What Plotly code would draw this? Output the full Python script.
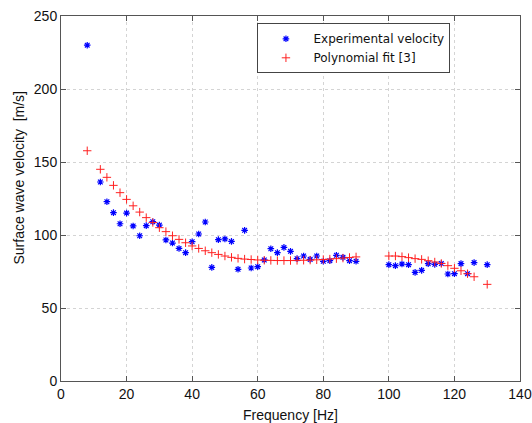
import plotly.graph_objects as go

frequency = [8, 12, 14, 16, 18, 20, 22, 24, 26, 28, 30, 32, 34, 36, 38, 40, 42, 44, 46, 48,
             50, 52, 54, 56, 58, 60, 62, 64, 66, 68, 70, 72, 74, 76, 78, 80, 82, 84, 86, 88, 90,
             100, 102, 104, 106, 108, 110, 112, 114, 116, 118, 120, 122, 124, 126, 130]

experimental_velocity = [230, 136.3, 122.8, 115.3, 107.7, 115, 106.2, 99.5, 106.4, 109.1,
                         106.8, 96.6, 94.5, 90.8, 87.9, 95.4, 100.7, 108.9, 77.8, 96.8,
                         97.3, 95.6, 76.5, 103.2, 77.4, 78.3, 82.9, 90.6, 87.9, 91.5,
                         88.8, 83.8, 85.6, 83.3, 85.6, 82.0, 82.4, 86.1, 84.7, 82.4, 82.0,
                         79.7, 79.0, 80.1, 79.7, 74.4, 75.8, 80.4, 79.9, 80.5, 73.3,
                         73.5, 80.4, 73.5, 81.1, 79.7]

polynomial_fit = [157.7, 145, 139.5, 134, 129, 124.4, 120, 115.7, 111.9, 108.6,
                  105, 102.3, 99.5, 97, 94.7, 92.5, 90.8, 89.2, 87.9, 86.7,
                  85.6, 84.7, 84.0, 83.5, 83.2, 82.9, 82.7, 82.6, 82.5, 82.5,
                  82.5, 82.6, 82.7, 82.8, 83.0, 83.2, 83.5, 83.8, 84.2, 84.6, 85.0,
                  85.6, 85.6, 85.2, 84.5, 83.8, 83.3, 82.4, 81.5, 80.5, 79.0,
                  77.2, 75.5, 73.5, 71.4, 66.2]

x_ticks = [0, 20, 40, 60, 80, 100, 120, 140]
y_ticks = [0, 50, 100, 150, 200, 250]

x_title = "Frequency [Hz]"
y_title = "Surface wave velocity  [m/s]"

fig = go.Figure()
fig.add_trace(go.Scatter(
    x=frequency, y=experimental_velocity, mode="markers", name="Experimental velocity",
    marker=dict(symbol="asterisk-open", size=5.5, color="#0000ff",
                line=dict(color="#0000ff", width=1.2)),
))
fig.add_trace(go.Scatter(
    x=frequency, y=polynomial_fit, mode="markers", name="Polynomial fit [3]",
    marker=dict(symbol="cross-thin-open", size=6, color="#ff2020",
                line=dict(color="#ff2020", width=1)),
))

axis_common = dict(
    showline=True, linecolor="#555555", linewidth=1, mirror="ticks",
    ticks="inside", ticklen=5, tickcolor="#555555",
    showgrid=True, gridcolor="#d4d4d4", griddash="dot", gridwidth=1,
    zeroline=False, automargin=False,
    tickfont=dict(family="Liberation Sans", size=14, color="#111111"),
)

fig.update_xaxes(range=[0, 140], tickvals=x_ticks, **axis_common)
fig.update_yaxes(range=[0, 250], tickvals=y_ticks, **axis_common)

title_font = dict(family="Liberation Sans", size=14, color="#111111")
fig.add_annotation(text=x_title, xref="paper", yref="paper", x=0.5, y=-0.093,
                   xanchor="center", yanchor="middle", showarrow=False, font=title_font)
fig.add_annotation(text=y_title, xref="paper", yref="paper", x=-0.0915, y=0.5575,
                   xanchor="center", yanchor="middle", textangle=-90,
                   showarrow=False, font=title_font)

fig.update_layout(
    width=532, height=423,
    margin=dict(l=61, r=12, t=16, b=42),
    paper_bgcolor="white", plot_bgcolor="white",
    showlegend=True,
    legend=dict(x=0.428, y=0.98, xanchor="left", yanchor="top",
                bordercolor="#444444", borderwidth=1, bgcolor="white",
                itemwidth=45, entrywidth=190, entrywidthmode="pixels",
                font=dict(family="DejaVu Sans", size=12, color="#111111")),
)

fig.write_html("out.html", config={"displayModeBar": False},
               post_script="document.body.style.margin='0';document.body.style.overflow='hidden';")
